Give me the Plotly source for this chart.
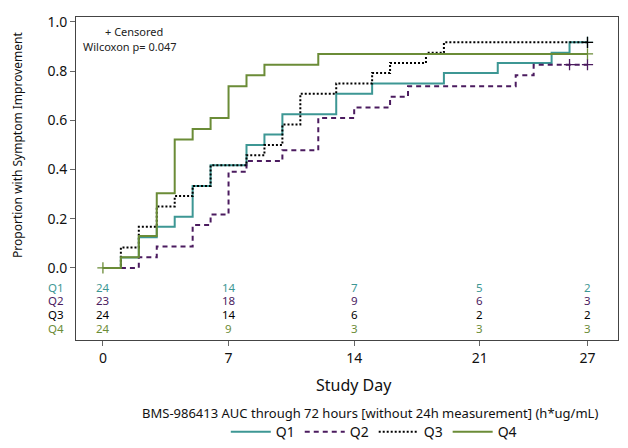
import plotly.graph_objects as go

# ---- data ----
groups = ["Q1", "Q2", "Q3", "Q4"]
colors = {"Q1": "#3d9794", "Q2": "#4b1b5f", "Q3": "#000000", "Q4": "#6b8c37"}
dashes = {"Q1": "solid", "Q2": "5px,4px", "Q3": "2px,2px", "Q4": "solid"}

q1_days = [0, 1, 2, 3, 4, 5, 6, 8, 9, 10, 13, 15, 19, 22, 25, 26, 27]
q1_vals = [0.0, 0.042, 0.125, 0.167, 0.208, 0.333, 0.417, 0.5, 0.542, 0.625, 0.708, 0.75, 0.792, 0.833, 0.875, 0.917, 0.917]

q2_days = [0, 2, 3, 5, 6, 7, 8, 10, 12, 14, 16, 17, 23, 24, 27]
q2_vals = [0.0, 0.043, 0.087, 0.174, 0.217, 0.391, 0.435, 0.478, 0.609, 0.652, 0.696, 0.739, 0.783, 0.826, 0.826]

q3_days = [0, 1, 2, 3, 4, 5, 6, 8, 9, 10, 11, 13, 15, 16, 18, 19, 27]
q3_vals = [0.0, 0.083, 0.167, 0.25, 0.292, 0.333, 0.417, 0.458, 0.5, 0.583, 0.708, 0.75, 0.792, 0.833, 0.875, 0.917, 0.917]

q4_days = [0, 1, 2, 3, 4, 5, 6, 7, 8, 9, 12, 27]
q4_vals = [0.0, 0.043, 0.130, 0.304, 0.522, 0.565, 0.609, 0.739, 0.783, 0.826, 0.870, 0.870]

censor_days = {"Q1": [27], "Q2": [26, 27], "Q3": [27], "Q4": [0, 27]}
censor_vals = {"Q1": [0.917], "Q2": [0.826, 0.826], "Q3": [0.917], "Q4": [0.0, 0.870]}

risk_days = [0, 7, 14, 21, 27]
at_risk = {
    "Q1": [24, 14, 7, 5, 2],
    "Q2": [23, 18, 9, 6, 3],
    "Q3": [24, 14, 6, 2, 2],
    "Q4": [24, 9, 3, 3, 3],
}
risk_rows_y = {"Q1": -0.081, "Q2": -0.134, "Q3": -0.191, "Q4": -0.248}

x_ticks = [0, 7, 14, 21, 27]
y_ticks = [0.0, 0.2, 0.4, 0.6, 0.8, 1.0]

series = {"Q1": (q1_days, q1_vals), "Q2": (q2_days, q2_vals),
          "Q3": (q3_days, q3_vals), "Q4": (q4_days, q4_vals)}

FONT = "Noto Sans"
fig = go.Figure()

for g in groups:
    d, v = series[g]
    fig.add_trace(go.Scatter(
        x=d, y=v, mode="lines", name=g, line_shape="hv",
        line=dict(color=colors[g], width=2, dash=dashes[g]),
    ))
for g in groups:
    fig.add_trace(go.Scatter(
        x=censor_days[g], y=censor_vals[g], mode="markers", showlegend=False,
        marker=dict(symbol="cross-thin", size=8, line=dict(color=colors[g], width=1.3)),
    ))

ann = []
for g in groups:
    ann.append(dict(x=-0.018, xref="paper", y=risk_rows_y[g], yref="y", text=g,
                    showarrow=False, xanchor="right", yanchor="middle",
                    font=dict(color=colors[g], size=11.5, family=FONT)))
    for d, n in zip(risk_days, at_risk[g]):
        ann.append(dict(x=d, y=risk_rows_y[g], xref="x", yref="y", text=str(n),
                        showarrow=False, xanchor="center", yanchor="middle",
                        font=dict(color=colors[g], size=11.5, family=FONT)))

ann.append(dict(x=0.0, xref="x", y=0.96, yref="y", text="+ Censored", showarrow=False,
                xanchor="left", yanchor="middle", font=dict(size=11, family=FONT, color="#222")))
ann.append(dict(x=-1.2, xref="x", y=0.9, yref="y", text="Wilcoxon p= 0.047", showarrow=False,
                xanchor="left", yanchor="middle", font=dict(size=11, family=FONT, color="#222")))
ann.append(dict(x=-0.107, xref="paper", y=0.5, yref="y", text="Proportion with Symptom Improvement",
                textangle=-90, showarrow=False, xanchor="center", yanchor="middle",
                font=dict(size=12, family=FONT, color="#111")))
ann.append(dict(x=14, xref="x", y=-0.139, yref="paper", text="Study Day", showarrow=False,
                xanchor="center", yanchor="middle", font=dict(size=16, family=FONT, color="#111")))
ann.append(dict(x=0.542, xref="paper", y=-0.226, yref="paper",
                text="BMS-986413 AUC through 72 hours [without 24h measurement] (h*ug/mL)",
                showarrow=False, xanchor="center", yanchor="middle",
                font=dict(size=13, family=FONT, color="#111")))

# the page adds an 8px body margin, so the figure is sized/offset to compensate
fig.update_layout(
    width=620, height=440,
    margin=dict(l=68, r=10, t=9, b=108, autoexpand=False),
    paper_bgcolor="white", plot_bgcolor="white",
    font=dict(family=FONT, color="#111"),
    annotations=ann,
    showlegend=True,
    legend=dict(orientation="h", x=0.59, xref="container", xanchor="center",
                y=0.036, yref="container", yanchor="middle",
                font=dict(size=14, family=FONT), bgcolor="rgba(0,0,0,0)",
                itemwidth=40, tracegroupgap=0),
)
fig.update_xaxes(range=[-1.5, 28.7], tickvals=x_ticks, ticks="outside", ticklen=5,
                 tickcolor="#666", showgrid=False, zeroline=False, showline=True,
                 linecolor="#444", linewidth=1, mirror=True, automargin=False,
                 tickfont=dict(size=14, family=FONT, color="#111"))
fig.update_yaxes(range=[-0.293, 1.02], tickvals=y_ticks,
                 ticktext=[f"{v:.1f}" for v in y_ticks], ticks="outside", ticklen=5,
                 tickcolor="#666", showgrid=False, zeroline=False, showline=True,
                 linecolor="#444", linewidth=1, mirror=True, automargin=False,
                 tickfont=dict(size=14, family=FONT, color="#111"))

fig.write_html("out.html")
